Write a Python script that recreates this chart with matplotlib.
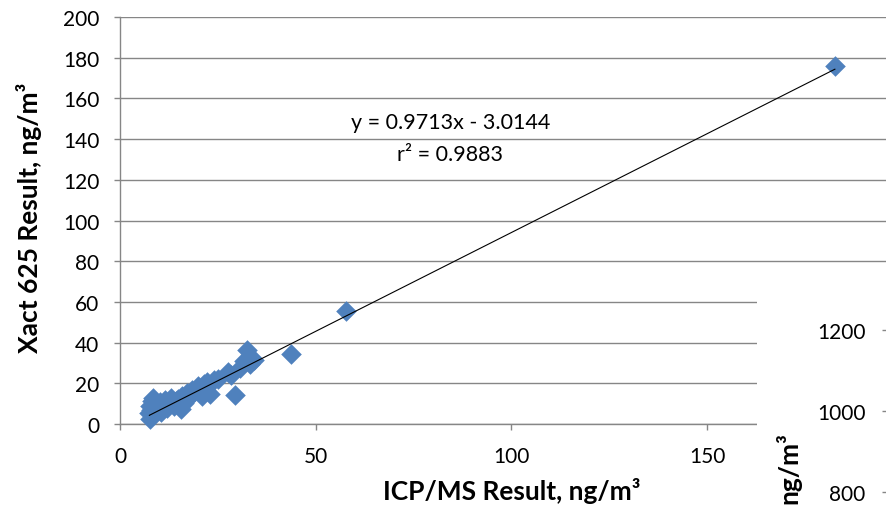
import numpy as np
import matplotlib
matplotlib.use('Agg')
import matplotlib.pyplot as plt
from matplotlib.patches import Rectangle

plt.rcParams['font.family'] = ['Lato', 'DejaVu Sans']

# ICP/MS vs Xact 625 results (ng/m3)
icpms = [7.5, 7.7, 7.6, 7.9, 8.1, 8.4, 8.8, 9.2, 9.6, 10.1,
         10.6, 11.0, 11.5, 12.0, 12.6, 13.1, 13.7, 14.3, 14.9, 15.5,
         15.8, 16.4, 17.0, 17.6, 18.3, 19.0, 19.8, 20.6, 20.9, 21.5,
         22.3, 23.0, 24.0, 25.0, 27.6, 28.3, 29.4, 30.7, 31.6, 32.4,
         33.2, 34.2, 43.6, 57.8, 182.6]
xact = [5.5, 2.6, 9.0, 7.0, 11.5, 12.8, 5.0, 10.0, 7.5, 11.0,
        5.8, 9.0, 12.0, 8.0, 10.5, 13.0, 9.0, 11.5, 12.5, 7.4,
        14.0, 10.5, 15.0, 13.5, 16.5, 15.5, 18.5, 17.0, 13.9, 19.5,
        20.5, 14.7, 21.5, 22.0, 25.5, 24.0, 14.2, 27.5, 31.0, 36.5,
        29.5, 31.5, 34.6, 55.5, 176.0]
slope, intercept, r2 = 0.9713, -3.0144, 0.9883

# fragment of a neighbouring chart's axis on the right
side_ticks = [800, 1000, 1200]

W, H = 887, 510
fig = plt.figure(figsize=(W / 100, H / 100), dpi=100)

grey = '#868686'
ax = fig.add_axes([120 / W, 85 / H, 783 / W, 407 / H])
ax.set_xlim(0, 200)
ax.set_ylim(0, 200)
ax.set_xticks([0, 50, 100, 150])
ax.set_yticks(np.arange(0, 201, 20))
for s in ['top', 'right']:
    ax.spines[s].set_visible(False)
for s in ['left', 'bottom']:
    ax.spines[s].set_color(grey)
    ax.spines[s].set_linewidth(1.0)
ax.grid(True, axis='y', color=grey, lw=1.0)
ax.set_axisbelow(True)
ax.tick_params(direction='out', length=4, width=1.0, color=grey,
               labelsize=15)
ax.tick_params(axis='y', pad=11)
ax.tick_params(axis='x', pad=12)

ax.scatter(icpms, xact, marker='D', s=110, color='#4F81BD', zorder=3,
           clip_on=False, linewidths=0)
xl = np.array([min(icpms), max(icpms)])
ax.plot(xl, slope * xl + intercept, color='black', lw=0.8, zorder=4,
        clip_on=False)

ax.text(0.422, 0.702, f'y = {slope}x - {abs(intercept)}\nr² = {r2}',
        transform=ax.transAxes, ha='center', va='center', fontsize=15.5,
        linespacing=1.75)

ax.set_xlabel('ICP/MS Result, ng/m³', fontsize=19, fontweight='bold',
              labelpad=8)
ax.set_ylabel('Xact 625 Result, ng/m³', fontsize=19, fontweight='bold',
              labelpad=8)
ax.yaxis.set_label_coords(-0.1, 0.51)

# white block of the overlapping chart
fig.patches.append(Rectangle((757 / W, 0), (W - 757) / W, (H - 285) / H,
                             transform=fig.transFigure, facecolor='white',
                             edgecolor='none', zorder=5))

ax2 = fig.add_axes([889 / W, 0, 0.05, 225 / H], zorder=6)
ax2.set_ylim(759.5, 1311.7)
ax2.set_yticks(side_ticks)
ax2.set_xticks([])
for s in ax2.spines.values():
    s.set_visible(False)
ax2.patch.set_visible(False)
ax2.tick_params(direction='out', length=5, width=1.0, color=grey,
                labelsize=15, pad=12)
fig.text(788 / W, 1 - 468 / H, 'ng/m³', rotation=90, ha='center',
         va='center', fontsize=19, fontweight='bold', zorder=7)

fig.savefig('out.png', dpi=100)
